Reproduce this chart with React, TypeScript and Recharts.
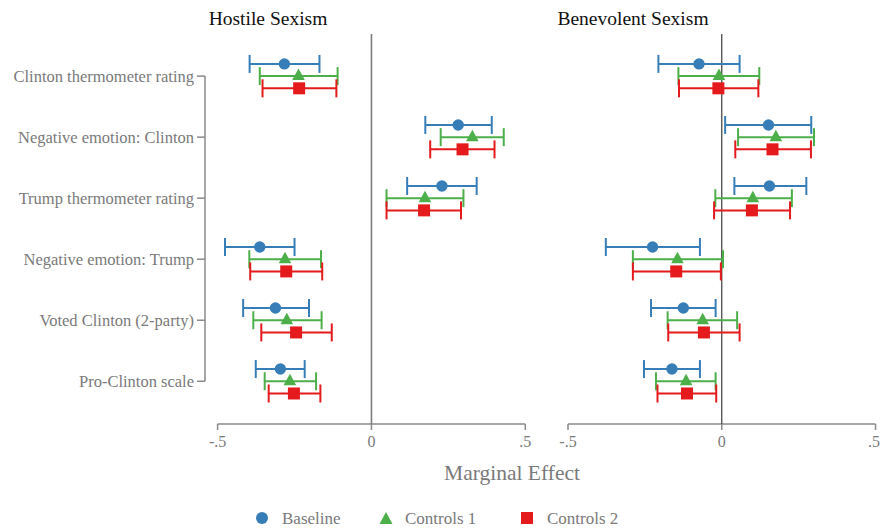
import {
  ScatterChart, Scatter, XAxis, YAxis, ErrorBar, ReferenceLine,
} from 'recharts';

// ─────────────────────────────────────────────────────────────────────────────
// Data: marginal effects with 95% intervals, three model specifications
// ─────────────────────────────────────────────────────────────────────────────

const categories = [
  'Clinton thermometer rating',
  'Negative emotion: Clinton',
  'Trump thermometer rating',
  'Negative emotion: Trump',
  'Voted Clinton (2-party)',
  'Pro-Clinton scale',
];

const xTicks = [-0.5, 0, 0.5];
const xTickLabels = ['-.5', '0', '.5'];

// Hostile sexism
const hostileBaseline = [-0.283, 0.282, 0.229, -0.363, -0.312, -0.296];
const hostileBaselineLo = [-0.396, 0.175, 0.116, -0.476, -0.417, -0.376];
const hostileBaselineHi = [-0.169, 0.391, 0.342, -0.250, -0.203, -0.217];
const hostileControls1 = [-0.237, 0.328, 0.174, -0.281, -0.275, -0.265];
const hostileControls1Lo = [-0.363, 0.225, 0.049, -0.397, -0.384, -0.347];
const hostileControls1Hi = [-0.110, 0.430, 0.299, -0.164, -0.162, -0.180];
const hostileControls2 = [-0.235, 0.296, 0.171, -0.277, -0.245, -0.252];
const hostileControls2Lo = [-0.354, 0.191, 0.049, -0.394, -0.358, -0.334];
const hostileControls2Hi = [-0.114, 0.400, 0.291, -0.160, -0.129, -0.166];

// Benevolent sexism
const benevBaseline = [-0.074, 0.152, 0.155, -0.225, -0.125, -0.162];
const benevBaselineLo = [-0.206, 0.011, 0.041, -0.377, -0.230, -0.253];
const benevBaselineHi = [0.058, 0.291, 0.275, -0.071, -0.020, -0.071];
const benevControls1 = [-0.009, 0.176, 0.101, -0.144, -0.062, -0.116];
const benevControls1Lo = [-0.141, 0.053, -0.021, -0.289, -0.176, -0.214];
const benevControls1Hi = [0.122, 0.300, 0.228, 0.004, 0.050, -0.020];
const benevControls2 = [-0.011, 0.165, 0.098, -0.148, -0.058, -0.113];
const benevControls2Lo = [-0.139, 0.044, -0.025, -0.289, -0.174, -0.209];
const benevControls2Hi = [0.119, 0.290, 0.222, -0.003, 0.058, -0.018];

// ─────────────────────────────────────────────────────────────────────────────
// Styling
// ─────────────────────────────────────────────────────────────────────────────

const BLUE = '#377eb8';
const GREEN = '#4daf4a';
const RED = '#e41a1c';
const GREY_TEXT = '#7a7a7a';
const AXIS = '#8a8a8a';
const FONT = "'Liberation Serif', 'DejaVu Serif', serif";

const Y_DOMAIN: [number, number] = [-0.69, 5.7];
const ROW_OFFSET = 0.2;

function buildRows(est: number[], lo: number[], hi: number[], offset: number) {
  return categories.map((_c, i) => ({
    x: est[i],
    y: i + offset,
    err: [est[i] - lo[i], hi[i] - est[i]],
  }));
}

const CircleMark = (p: any) => <circle cx={p.cx} cy={p.cy} r={5.7} fill={BLUE} />;
const TriangleMark = (p: any) => (
  <polygon
    points={`${p.cx - 6.3},${p.cy + 4} ${p.cx + 6.3},${p.cy + 4} ${p.cx},${p.cy - 7.5}`}
    fill={GREEN}
  />
);
const SquareMark = (p: any) => <rect x={p.cx - 6} y={p.cy - 6} width={12} height={12} fill={RED} />;

interface PanelProps {
  width: number;
  left: number;
  marginLeft: number;
  marginRight: number;
  xDomain: [number, number];
  showLabels: boolean;
  zeroStroke: string;
  zeroWidth: number;
  series: { rows: any[]; color: string; shape: any; name: string }[];
}

function Panel(props: PanelProps) {
  const { width, left, marginLeft, marginRight, xDomain, showLabels, series } = props;
  return (
    <div style={{ position: 'absolute', left, top: 0 }}>
      <ScatterChart
        width={width}
        height={531}
        margin={{ top: 34, right: marginRight, bottom: 77, left: marginLeft }}
      >
        <XAxis
          type="number"
          dataKey="x"
          domain={xDomain}
          ticks={xTicks}
          height={30}
          tickFormatter={(v: number) => xTickLabels[xTicks.indexOf(v)] ?? String(v)}
          axisLine={false}
          tickLine={{ stroke: AXIS, strokeWidth: 1.5 }}
          tickSize={6}
          tickMargin={6}
          tick={{ fill: GREY_TEXT, fontSize: 16, style: { fontFamily: FONT } }}
          allowDataOverflow
        />
        <YAxis
          type="number"
          dataKey="y"
          domain={Y_DOMAIN}
          reversed
          hide={!showLabels}
          width={showLabels ? 205 : 0}
          ticks={[0, 1, 2, 3, 4, 5]}
          interval={0}
          tickFormatter={(v: number) => categories[v] ?? ''}
          axisLine={false}
          tickLine={{ stroke: AXIS, strokeWidth: 1.5 }}
          tickSize={8}
          tickMargin={3}
          tick={{ fill: GREY_TEXT, fontSize: 16.5, style: { fontFamily: FONT } }}
          allowDataOverflow
        />
        {showLabels && (
          <ReferenceLine
            segment={[{ x: xDomain[0], y: 0 }, { x: xDomain[0], y: 5 }]}
            stroke={AXIS}
            strokeWidth={1.5}
            ifOverflow="visible"
          />
        )}
        <ReferenceLine
          segment={[{ x: -0.5, y: Y_DOMAIN[1] }, { x: 0.5, y: Y_DOMAIN[1] }]}
          stroke={AXIS}
          strokeWidth={1.5}
          ifOverflow="visible"
        />
        <ReferenceLine x={0} stroke={props.zeroStroke} strokeWidth={props.zeroWidth} ifOverflow="visible" />
        {series.map(s => (
          <Scatter
            key={s.name}
            name={s.name}
            data={s.rows}
            shape={s.shape}
            isAnimationActive={false}
          >
            <ErrorBar dataKey="err" direction="x" width={9} stroke={s.color} strokeWidth={2} />
          </Scatter>
        ))}
      </ScatterChart>
    </div>
  );
}

const textStyle = { fontFamily: FONT };

export default function App() {
  const hostileSeries = [
    { name: 'Baseline', color: BLUE, shape: CircleMark, rows: buildRows(hostileBaseline, hostileBaselineLo, hostileBaselineHi, -ROW_OFFSET) },
    { name: 'Controls 1', color: GREEN, shape: TriangleMark, rows: buildRows(hostileControls1, hostileControls1Lo, hostileControls1Hi, 0) },
    { name: 'Controls 2', color: RED, shape: SquareMark, rows: buildRows(hostileControls2, hostileControls2Lo, hostileControls2Hi, ROW_OFFSET) },
  ];
  const benevSeries = [
    { name: 'Baseline', color: BLUE, shape: CircleMark, rows: buildRows(benevBaseline, benevBaselineLo, benevBaselineHi, -ROW_OFFSET) },
    { name: 'Controls 1', color: GREEN, shape: TriangleMark, rows: buildRows(benevControls1, benevControls1Lo, benevControls1Hi, 0) },
    { name: 'Controls 2', color: RED, shape: SquareMark, rows: buildRows(benevControls2, benevControls2Lo, benevControls2Hi, ROW_OFFSET) },
  ];

  return (
    <div
      style={{
        position: 'absolute', left: 0, top: 0, width: 880, height: 531,
        overflow: 'hidden', background: '#fff', fontFamily: FONT,
      }}
    >
      <Panel
        width={540}
        left={0}
        marginLeft={0}
        marginRight={2.4}
        xDomain={[-0.541, 0.54]}
        showLabels
        zeroStroke="#7d7d7d"
        zeroWidth={1.6}
        series={hostileSeries}
      />
      <Panel
        width={340}
        left={540}
        marginLeft={15.7}
        marginRight={1.4}
        xDomain={[-0.54, 0.51]}
        showLabels={false}
        zeroStroke="#3c3c3c"
        zeroWidth={1.2}
        series={benevSeries}
      />

      {/* Panel titles, axis title and legend */}
      <svg width={880} height={531} style={{ position: 'absolute', left: 0, top: 0, pointerEvents: 'none' }}>
        <text x={268} y={18} textAnchor="middle" dominantBaseline="central" fontSize={19.5} fill="#111" style={textStyle}>
          Hostile Sexism
        </text>
        <text x={633} y={18} textAnchor="middle" dominantBaseline="central" fontSize={19.5} fill="#111" style={textStyle}>
          Benevolent Sexism
        </text>
        <text x={512} y={473} textAnchor="middle" dominantBaseline="central" fontSize={21.5} fill={GREY_TEXT} style={textStyle}>
          Marginal Effect
        </text>

        <circle cx={262} cy={518} r={6} fill={BLUE} />
        <text x={282} y={518} dominantBaseline="central" fontSize={17} fill={GREY_TEXT} style={textStyle}>Baseline</text>
        <polygon points="379.5,524 392.5,524 386,512" fill={GREEN} />
        <text x={405} y={518} dominantBaseline="central" fontSize={17} fill={GREY_TEXT} style={textStyle}>Controls 1</text>
        <rect x={521} y={512} width={12} height={12} fill={RED} />
        <text x={547} y={518} dominantBaseline="central" fontSize={17} fill={GREY_TEXT} style={textStyle}>Controls 2</text>
      </svg>
    </div>
  );
}
